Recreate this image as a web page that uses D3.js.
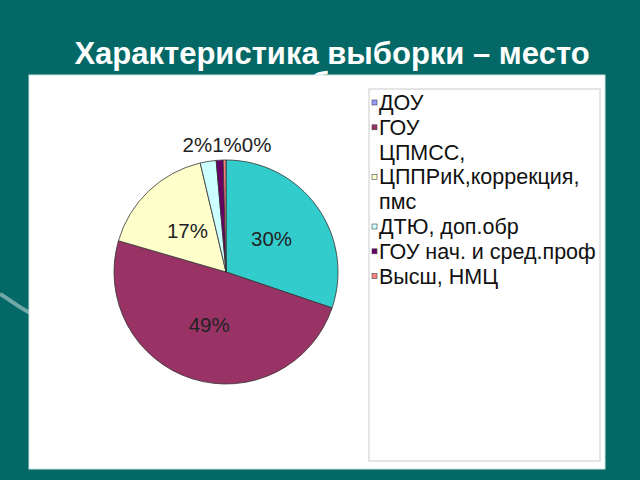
<!DOCTYPE html>
<html>
<head>
<meta charset="utf-8">
<script src="https://cdn.jsdelivr.net/npm/d3@7"></script>
<style>
html,body{margin:0;padding:0;background:#036866;}
svg{display:block;}
</style>
</head>
<body>
<svg id="chart" width="640" height="480"></svg>
<script>
// Data
const categories = ["ДОУ", "ГОУ ЦПМСС,", "ЦППРиК,коррекция, пмс", "ДТЮ, доп.обр", "ГОУ нач. и сред.проф", "Высш, НМЦ"];
const legendLines = [["ДОУ"], ["ГОУ", "ЦПМСС,"], ["ЦППРиК,коррекция,", "пмс"], ["ДТЮ, доп.обр"], ["ГОУ нач. и сред.проф"], ["Высш, НМЦ"]];
const values = [30.2, 49.3, 16.8, 2.3, 1.0, 0.4];
const sliceColors = ["#33CCCC", "#993366", "#FFFFCC", "#CCFFFF", "#660066", "#FF8080"];
const legendColors = ["#9999FF", "#993366", "#FFFFCC", "#CCFFFF", "#660066", "#FF8080"];
const titleLines = ["Характеристика выборки – место", "работы"];

const svg = d3.select("#chart");
const FONT = "Liberation Sans, Arial, sans-serif";

svg.append("defs").append("clipPath").attr("id", "titleClip")
  .append("rect").attr("x", 0).attr("y", 66).attr("width", 640).attr("height", 9);

// background
svg.append("rect").attr("width", 640).attr("height", 480).attr("fill", "#036866");
svg.append("path").attr("d", "M0,294 C10,300 20,308 32,314")
  .attr("fill", "none").attr("stroke", "#8fb8b6").attr("stroke-width", 4).attr("opacity", 0.8);

// title
svg.append("text").attr("x", 332).attr("y", 64).attr("text-anchor", "middle")
  .attr("font-family", FONT).attr("font-weight", "bold")
  .attr("font-size", 31).attr("fill", "#ffffff").text(titleLines[0]);
// second title line: hidden behind the chart panel, only its top peeks out
svg.append("g").attr("clip-path", "url(#titleClip)")
  .append("text").attr("x", 332).attr("y", 94).attr("text-anchor", "middle")
  .attr("font-family", FONT).attr("font-weight", "bold")
  .attr("font-size", 31).attr("fill", "#ffffff").text(titleLines[1]);

// white panel
svg.append("rect").attr("x", 29).attr("y", 75).attr("width", 576).attr("height", 394)
  .attr("fill", "#ffffff").attr("stroke", "#cfe6e4").attr("stroke-width", 1);

// pie
const cx = 226, cy = 272, r = 112;
const pie = d3.pie().sort(null).value(d => d)(values);
const arc = d3.arc().innerRadius(0).outerRadius(r);
const g = svg.append("g").attr("transform", `translate(${cx},${cy})`);
g.selectAll("path").data(pie).join("path")
  .attr("d", arc)
  .attr("fill", (d, i) => sliceColors[i])
  .attr("stroke", "#333333").attr("stroke-width", 0.8);

const total = d3.sum(values);
const fmt = v => Math.round(v / total * 100) + "%";
const labelArc = d3.arc().innerRadius(r * 0.5).outerRadius(r * 0.5);
pie.forEach((d, i) => {
  if (values[i] / total >= 0.05) {
    const [x, y] = labelArc.centroid(d);
    g.append("text").attr("x", x).attr("y", y + 7).attr("text-anchor", "middle")
      .attr("font-family", FONT).attr("font-size", 20.5)
      .attr("fill", "#222").text(fmt(values[i]));
  }
});
const small = pie.map((d, i) => i).filter(i => values[i] / total < 0.05);
const smallText = small.map(i => fmt(values[i])).join("");
svg.append("text").attr("x", 227).attr("y", 152).attr("text-anchor", "middle")
  .attr("font-family", FONT).attr("font-size", 20.5)
  .attr("fill", "#222").text(smallText);

// legend
svg.append("rect").attr("x", 369).attr("y", 89).attr("width", 231).attr("height", 372)
  .attr("fill", "#ffffff").attr("stroke", "#dddddd").attr("stroke-width", 1.5);
let yy = 110;
const lh = 24.8;
legendLines.forEach((lines, i) => {
  svg.append("rect").attr("x", 372).attr("y", yy - 10).attr("width", 5).attr("height", 5)
    .attr("fill", legendColors[i]).attr("stroke", "#444").attr("stroke-width", 0.6);
  lines.forEach((t, j) => {
    svg.append("text").attr("x", 379).attr("y", yy)
      .attr("font-family", FONT).attr("font-size", 21.5)
      .attr("fill", "#111").text(t);
    yy += lh;
  });
});
</script>
</body>
</html>
